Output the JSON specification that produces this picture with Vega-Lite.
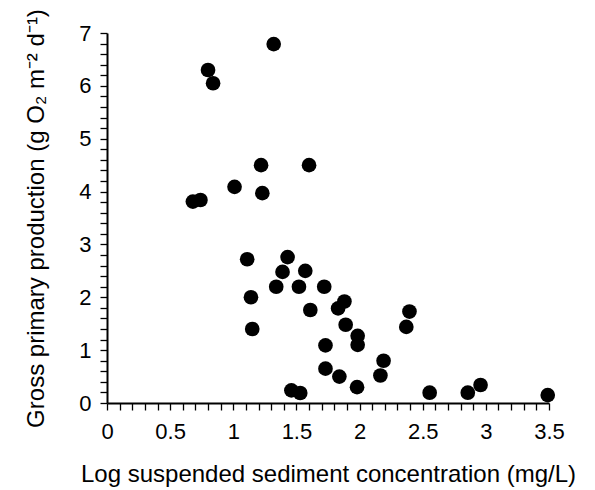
{
  "$schema": "https://vega.github.io/schema/vega-lite/v6.json",
  "width": 442,
  "height": 370,
  "autosize": {"type": "none"},
  "padding": {"left": 107, "top": 33, "right": 46, "bottom": 87},
  "background": "white",
  "config": {
    "view": {"stroke": null},
    "font": "Liberation Sans",
    "axis": {
      "grid": false,
      "domainColor": "black",
      "domainWidth": 2,
      "labelColor": "black",
      "titleColor": "black",
      "labelFont": "Liberation Sans",
      "titleFont": "Liberation Sans",
      "labelFontSize": 22,
      "titleFontSize": 24,
      "titleFontWeight": "normal",
      "labelOverlap": false,
      "labelFlush": false
    }
  },
  "data": {
    "values": [
      {"x": 1.32, "y": 6.79},
      {"x": 0.80, "y": 6.30},
      {"x": 0.84, "y": 6.05},
      {"x": 1.22, "y": 4.50},
      {"x": 1.60, "y": 4.50},
      {"x": 1.01, "y": 4.09},
      {"x": 1.23, "y": 3.97},
      {"x": 0.68, "y": 3.81},
      {"x": 0.74, "y": 3.84},
      {"x": 1.11, "y": 2.72},
      {"x": 1.43, "y": 2.76},
      {"x": 1.39, "y": 2.48},
      {"x": 1.57, "y": 2.50},
      {"x": 1.34, "y": 2.20},
      {"x": 1.52, "y": 2.20},
      {"x": 1.72, "y": 2.20},
      {"x": 1.14, "y": 2.00},
      {"x": 1.61, "y": 1.76},
      {"x": 1.88, "y": 1.92},
      {"x": 1.83, "y": 1.79},
      {"x": 1.89, "y": 1.48},
      {"x": 1.985, "y": 1.27},
      {"x": 1.985, "y": 1.10},
      {"x": 1.15, "y": 1.40},
      {"x": 1.73, "y": 1.09},
      {"x": 1.73, "y": 0.65},
      {"x": 1.84, "y": 0.50},
      {"x": 1.98, "y": 0.30},
      {"x": 2.19, "y": 0.80},
      {"x": 2.165, "y": 0.52},
      {"x": 1.46, "y": 0.24},
      {"x": 1.53, "y": 0.19},
      {"x": 2.395, "y": 1.73},
      {"x": 2.37, "y": 1.44},
      {"x": 2.555, "y": 0.195},
      {"x": 2.857, "y": 0.195},
      {"x": 2.958, "y": 0.34},
      {"x": 3.49, "y": 0.15}
    ]
  },
  "mark": {"type": "circle", "size": 215, "color": "black", "opacity": 1},
  "encoding": {
    "x": {
      "field": "x", "type": "quantitative",
      "scale": {"domain": [0, 3.5], "nice": false, "zero": true},
      "axis": {
        "orient": "bottom",
        "values": [0, 0.1, 0.2, 0.3, 0.4, 0.5, 0.6, 0.7, 0.8, 0.9, 1, 1.1, 1.2, 1.3, 1.4, 1.5, 1.6, 1.7, 1.8, 1.9, 2, 2.1, 2.2, 2.3, 2.4, 2.5, 2.6, 2.7, 2.8, 2.9, 3, 3.1, 3.2, 3.3, 3.4, 3.5],
        "ticks": true,
        "tickColor": "black",
        "tickWidth": 1.3,
        "tickSize": 7,
        "labelExpr": "abs(datum.value*2 - round(datum.value*2)) < 0.001 ? format(datum.value, '~g') : ''",
        "labelPadding": 11,
        "titlePadding": 20,
        "title": "Log suspended sediment concentration (mg/L)"
      }
    },
    "y": {
      "field": "y", "type": "quantitative",
      "scale": {"domain": [0, 7], "nice": false},
      "axis": {
        "orient": "left",
        "values": [0, 0.2, 0.4, 0.6, 0.8, 1, 1.2, 1.4, 1.6, 1.8, 2, 2.2, 2.4, 2.6, 2.8, 3, 3.2, 3.4, 3.6, 3.8, 4, 4.2, 4.4, 4.6, 4.8, 5, 5.2, 5.4, 5.6, 5.8, 6, 6.2, 6.4, 6.6, 6.8, 7],
        "ticks": true,
        "tickColor": "black",
        "tickWidth": 1.3,
        "tickSize": 7,
        "labelExpr": "abs(datum.value - round(datum.value)) < 0.001 ? format(datum.value, '~g') : ''",
        "labelPadding": 9,
        "titlePadding": 30,
        "title": "Gross primary production (g O₂ m⁻² d⁻¹)"
      }
    }
  }
}
